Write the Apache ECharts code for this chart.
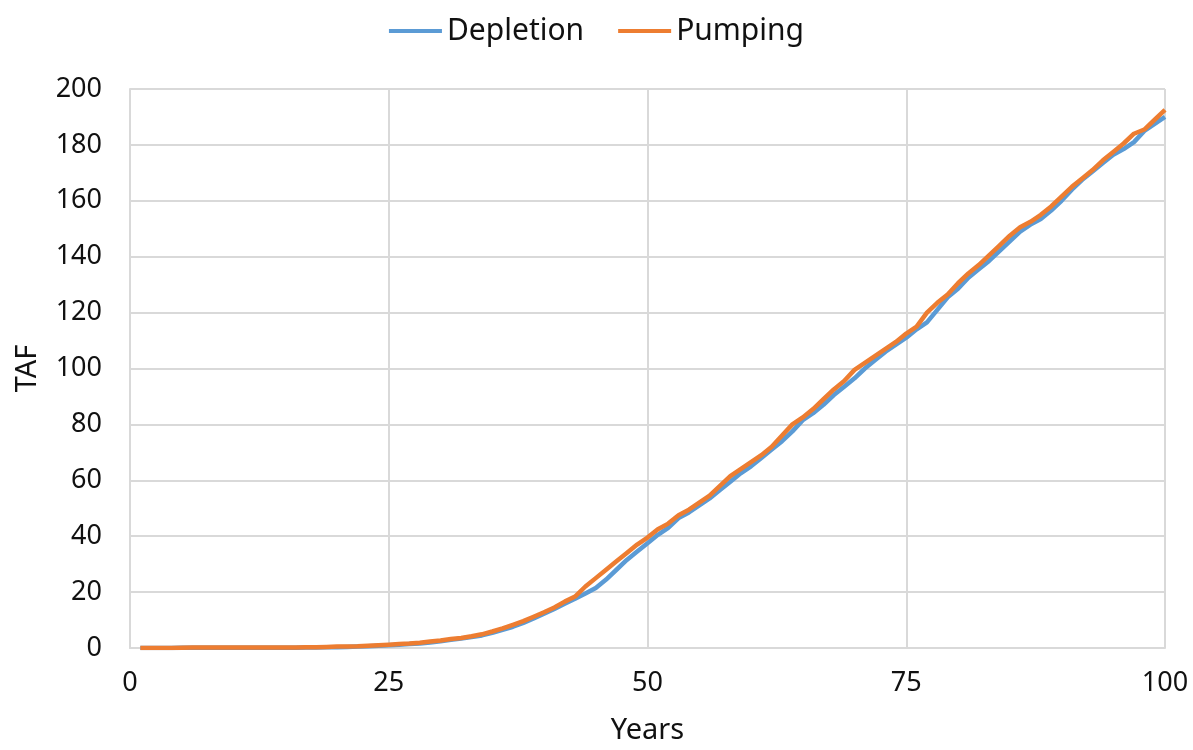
<!DOCTYPE html>
<html>
<head>
<meta charset="utf-8">
<script src="https://cdn.jsdelivr.net/npm/echarts@6/dist/echarts.min.js"></script>
<style>
  html, body { margin: 0; padding: 0; background: #fff; overflow: hidden; }
  #chart { width: 1193px; height: 750px; }
</style>
</head>
<body>
<div id="chart"></div>
<script>
// years 1..100
const years = Array.from({ length: 100 }, (_, i) => i + 1)

// depletion (TAF)
const depletion = [
  0, 0, 0, 0, 0.1, 0.1, 0.1, 0.1, 0.1, 0.1,
  0.1, 0.1, 0.1, 0.1, 0.1, 0.1, 0.2, 0.2, 0.3, 0.3,
  0.4, 0.5, 0.6, 0.8, 1.0, 1.2, 1.4, 1.6, 2.0, 2.4,
  2.9, 3.4, 3.9, 4.5, 5.4, 6.5, 7.6, 9.0, 10.6, 12.3,
  14.0, 15.8, 17.6, 19.5, 21.5, 24.5, 28.0, 31.5, 34.5, 37.5,
  40.5, 43.0, 46.5, 48.5, 51.0, 53.5, 56.5, 59.5, 62.5, 65.0,
  68.0, 71.0, 74.0, 77.5, 81.5, 84.0, 87.0, 90.5, 93.5, 96.5,
  100.0, 103.0, 106.0, 108.5, 111.0, 114.0, 116.5, 121.0, 125.5, 128.5,
  132.5, 135.5, 138.5, 142.0, 145.5, 149.0, 151.5, 153.5, 156.5, 160.0,
  164.0, 167.5, 170.5, 173.5, 176.5, 178.5, 181.0, 185.0, 187.5, 190.0
]

// pumping (TAF)
const pumping = [
  0, 0, 0, 0, 0.1, 0.2, 0.2, 0.2, 0.2, 0.2,
  0.2, 0.2, 0.2, 0.2, 0.2, 0.2, 0.3, 0.3, 0.4, 0.5,
  0.5, 0.6, 0.8, 1.0, 1.2, 1.4, 1.6, 1.9, 2.3, 2.7,
  3.2, 3.6, 4.2, 4.9, 5.9, 7.0, 8.3, 9.6, 11.2, 12.8,
  14.5, 16.6, 18.4, 22.0, 25.0, 28.0, 31.0, 34.0, 37.0, 39.5,
  42.5, 44.5, 47.5, 49.5, 52.0, 54.5, 58.0, 61.5, 64.0, 66.5,
  69.0, 72.0, 76.0, 80.0, 82.5, 85.5, 89.0, 92.5, 95.5, 99.5,
  102.0, 104.5, 107.0, 109.5, 112.5, 115.0, 120.0, 123.5, 126.5, 130.5,
  134.0, 137.0, 140.5, 144.0, 147.5, 150.5, 152.5, 155.0, 158.0, 161.5,
  165.0, 168.0, 171.0, 174.5, 177.5, 180.5, 184.0, 185.5, 189.0, 192.5
]

const xTicks = [0, 25, 50, 75, 100]
const yTicks = [0, 20, 40, 60, 80, 100, 120, 140, 160, 180, 200]

const font = '"Noto Sans", "Open Sans", sans-serif'
const gridColor = '#d9d9d9'
const textColor = '#111'

const chart = echarts.init(document.getElementById('chart'))

const option = {
  animation: false,
  textStyle: { fontFamily: font },
  legend: {
    top: 11,
    left: 'center',
    itemWidth: 53,
    itemHeight: 4,
    itemGap: 34,
    icon: 'rect',
    textStyle: { fontSize: 30, color: textColor, fontFamily: font },
    data: ['Depletion', 'Pumping']
  },
  grid: {
    left: 130,
    right: 28,
    top: 89,
    bottom: 96,
    containLabel: false
  },
  xAxis: {
    type: 'value',
    min: xTicks[0],
    max: xTicks[xTicks.length - 1],
    interval: 25,
    name: 'Years',
    nameLocation: 'middle',
    nameGap: 68,
    nameTextStyle: { fontSize: 29, color: textColor, fontFamily: font },
    axisLine: { show: true, lineStyle: { color: gridColor, width: 2 } },
    axisTick: { show: false },
    axisLabel: { fontSize: 27, color: textColor, margin: 22, fontFamily: font },
    splitLine: { show: true, lineStyle: { color: gridColor, width: 2 } }
  },
  yAxis: {
    type: 'value',
    min: yTicks[0],
    max: yTicks[yTicks.length - 1],
    interval: 20,
    name: 'TAF',
    nameLocation: 'middle',
    nameGap: 88,
    nameRotate: 90,
    nameTextStyle: { fontSize: 29, color: textColor, fontFamily: font },
    axisLine: { show: true, lineStyle: { color: gridColor, width: 2 } },
    axisTick: { show: false },
    axisLabel: { fontSize: 27, color: textColor, margin: 28, fontFamily: font },
    splitLine: { show: true, lineStyle: { color: gridColor, width: 2 } }
  },
  series: [
    {
      name: 'Depletion',
      type: 'line',
      data: years.map((y, i) => [y, depletion[i]]),
      showSymbol: false,
      smooth: false,
      lineStyle: { width: 4.5, color: '#5B9BD5' },
      itemStyle: { color: '#5B9BD5' },
      z: 2
    },
    {
      name: 'Pumping',
      type: 'line',
      data: years.map((y, i) => [y, pumping[i]]),
      showSymbol: false,
      smooth: false,
      lineStyle: { width: 4.5, color: '#ED7D31' },
      itemStyle: { color: '#ED7D31' },
      z: 3
    }
  ]
}

chart.setOption(option)
</script>
</body>
</html>
